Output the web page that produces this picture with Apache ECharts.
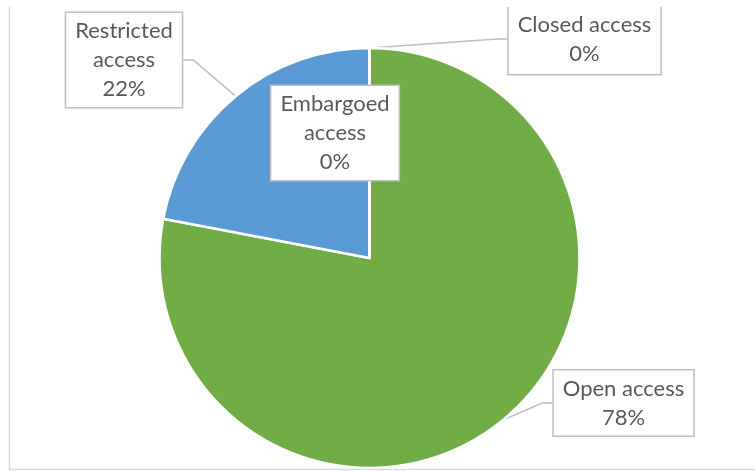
<!DOCTYPE html>
<html>
<head>
<meta charset="utf-8">
<script src="https://cdn.jsdelivr.net/npm/echarts@6/dist/echarts.min.js"></script>
<style>
  html, body { margin: 0; padding: 0; background: #ffffff; }
  #chart { width: 755px; height: 471px; }
</style>
</head>
<body>
<div id="chart"></div>
<script>
// Access status of the deposited datasets
const categories = ['Open access', 'Restricted access', 'Embargoed access', 'Closed access'];
const shares = [78, 22, 0, 0];
// How each category name wraps inside its callout
const labelLines = [['Open access'], ['Restricted', 'access'], ['Embargoed', 'access'], ['Closed access']];

const sliceColors = ['#70AD47', '#5B9BD5', '#A5A5A5', '#FFC000'];
// Callout box centres (px)
const calloutPos = [[623.5, 403], [124, 60], [335, 133], [584.5, 39]];
// Callout padding; the closed-access box runs off the top edge
const calloutPadding = [[7, 9, 0, 9], [7, 9, 0, 9], [7, 9, 0, 9], [12, 9, 0, 9]];

const chart = echarts.init(document.getElementById('chart'), null, { renderer: 'canvas' });

chart.setOption({
  animation: false,
  backgroundColor: '#ffffff',
  textStyle: { fontFamily: 'Lato, "Open Sans", sans-serif' },
  graphic: [
    // chart frame (left and bottom edges)
    { type: 'line', z: 100, shape: { x1: 9.5, y1: 7, x2: 9.5, y2: 470 }, style: { stroke: '#D9D9D9', lineWidth: 1.5 } },
    { type: 'line', z: 100, shape: { x1: 9, y1: 469.5, x2: 755, y2: 469.5 }, style: { stroke: '#D9D9D9', lineWidth: 1.5 } },
    // blank strip along the top edge
    { type: 'rect', z: 100, shape: { x: 0, y: 0, width: 755, height: 7 }, style: { fill: '#ffffff' } }
  ],
  series: [{
    type: 'pie',
    center: [369.5, 258],
    radius: 210,
    startAngle: 90,
    clockwise: true,
    avoidLabelOverlap: false,
    percentPrecision: 0,
    silent: true,
    itemStyle: { borderColor: '#ffffff', borderWidth: 2.5 },
    label: {
      show: true,
      position: 'outside',
      formatter: (p) => labelLines[p.dataIndex].join('\n') + '\n' + p.percent + '%',
      fontSize: 22,
      lineHeight: 29,
      color: '#595959',
      align: 'center',
      backgroundColor: '#ffffff',
      borderColor: '#BFBFBF',
      borderWidth: 1.5
    },
    labelLine: {
      show: true,
      length: 10,
      length2: 10,
      maxSurfaceAngle: 180,
      lineStyle: { color: '#BFBFBF', width: 1.5 }
    },
    labelLayout: (params) => {
      const p = calloutPos[params.dataIndex];
      return { x: p[0], y: p[1], align: 'center', verticalAlign: 'middle' };
    },
    data: categories.map((name, i) => ({
      name: name,
      value: shares[i],
      itemStyle: { color: sliceColors[i] },
      label: { padding: calloutPadding[i] }
    }))
  }]
});
</script>
</body>
</html>
